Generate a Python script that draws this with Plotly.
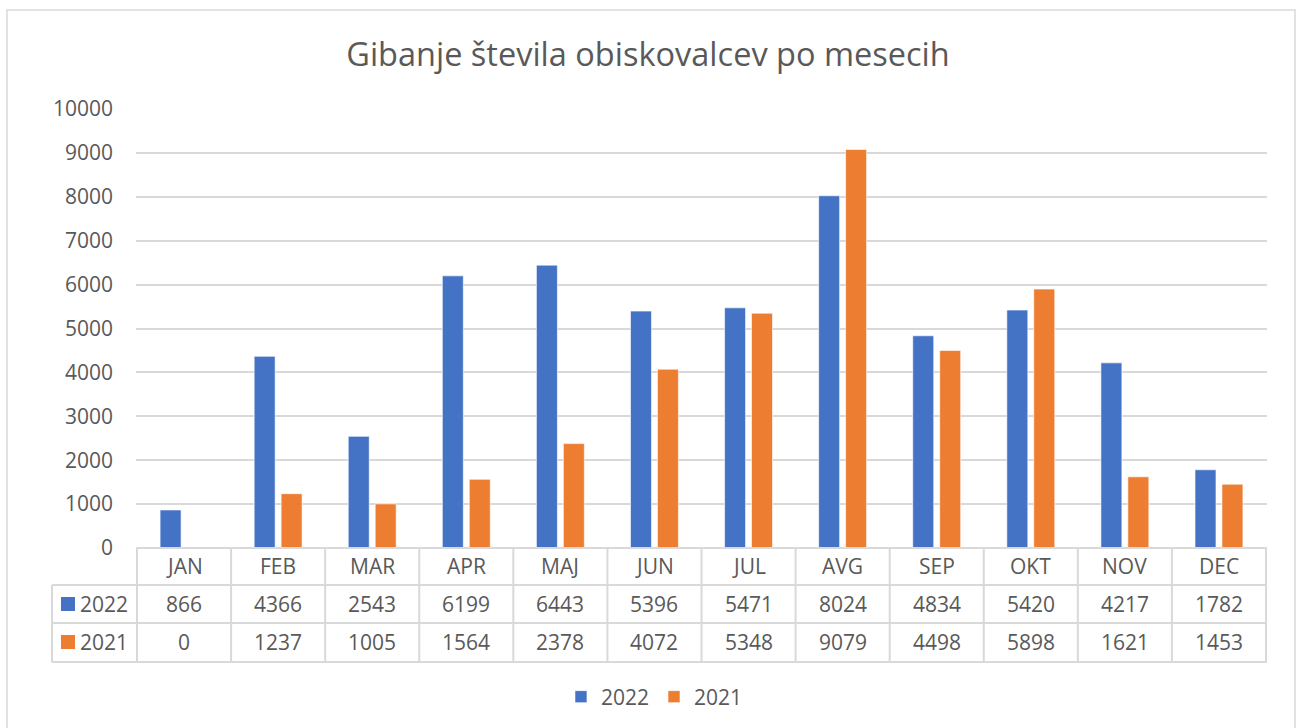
import plotly.graph_objects as go

# ---------------- data ----------------
months = ["JAN", "FEB", "MAR", "APR", "MAJ", "JUN", "JUL", "AVG", "SEP", "OKT", "NOV", "DEC"]
v2022 = [866, 4366, 2543, 6199, 6443, 5396, 5471, 8024, 4834, 5420, 4217, 1782]
v2021 = [0, 1237, 1005, 1564, 2378, 4072, 5348, 9079, 4498, 5898, 1621, 1453]
series_names = ["2022", "2021"]
series_values = [v2022, v2021]
colors = ["#4472C4", "#ED7D31"]
title_text = "Gibanje števila obiskovalcev po mesecih"
y_ticks = list(range(0, 10001, 1000))

# ---------------- layout geometry (pixels) ----------------
W, H = 1296, 728
L, R, T, B = 136, 1267, 109, 548
FONT = "Open Sans"
TXT = "#595959"
GRID = "#d9d9d9"
FS = 21


def px(x):
    return (x - L) / (R - L)


def py(y):
    return (B - y) / (B - T)


fig = go.Figure()
for name, vals, col in zip(series_names, series_values, colors):
    fig.add_trace(go.Bar(
        x=months, y=vals, name=name,
        marker=dict(color=col, line=dict(color="white", width=0.6)),
    ))

shapes = []
# chart border
shapes.append(dict(type="rect", xref="paper", yref="paper",
                   x0=px(7), x1=px(1295), y0=py(10), y1=py(745),
                   line=dict(color=GRID, width=1.5), layer="below"))
# table: header top line
shapes.append(dict(type="line", xref="paper", yref="paper",
                   x0=0, x1=1, y0=py(548), y1=py(548),
                   line=dict(color=GRID, width=2)))
row_lines = [585, 623, 662]
for yl in row_lines:
    shapes.append(dict(type="line", xref="paper", yref="paper",
                       x0=px(52), x1=1, y0=py(yl), y1=py(yl),
                       line=dict(color=GRID, width=2)))
shapes.append(dict(type="line", xref="paper", yref="paper",
                   x0=px(52), x1=px(52), y0=py(585), y1=py(662),
                   line=dict(color=GRID, width=2)))
for i in range(len(months) + 1):
    shapes.append(dict(type="line", xref="x", yref="paper",
                       x0=i - 0.5, x1=i - 0.5, y0=py(548), y1=py(662),
                       line=dict(color=GRID, width=2)))

annotations = []
font = dict(family=FONT, size=FS, color=TXT)
for m in months:
    annotations.append(dict(x=m, y=py(566), xref="x", yref="paper",
                            text=m, showarrow=False, font=font,
                            xanchor="center", yanchor="middle"))
row_centers = [604, 642]
for name, vals, col, yc in zip(series_names, series_values, colors, row_centers):
    for m, v in zip(months, vals):
        annotations.append(dict(x=m, y=py(yc), xref="x", yref="paper",
                                text=str(v), showarrow=False, font=font,
                                xanchor="center", yanchor="middle"))
    shapes.append(dict(type="rect", xref="paper", yref="paper",
                       x0=px(61), x1=px(75), y0=py(yc - 7), y1=py(yc + 7),
                       fillcolor=col, line=dict(width=0)))
    annotations.append(dict(x=px(78), y=py(yc), xref="paper", yref="paper",
                            text=name, showarrow=False, font=font,
                            xanchor="left", yanchor="middle"))

fig.update_layout(
    width=W, height=H,
    margin=dict(l=L, r=W - R, t=T, b=H - B, pad=0),
    paper_bgcolor="white", plot_bgcolor="white",
    font=dict(family=FONT, size=FS, color=TXT),
    title=dict(text=title_text, x=0.5, xref="container", xanchor="center",
               y=1 - 55 / H, yref="container", yanchor="middle",
               font=dict(family=FONT, size=32.5, color=TXT)),
    barmode="group", bargap=0.427, bargroupgap=0.222,
    showlegend=True,
    legend=dict(orientation="h", xref="container", yref="container",
                x=0.505, xanchor="center", y=1 - 697 / H, yanchor="middle",
                font=dict(family=FONT, size=FS, color=TXT),
                itemwidth=30, traceorder="normal"),
    shapes=shapes, annotations=annotations,
)
fig.update_xaxes(showticklabels=False, showgrid=False, zeroline=False,
                 showline=False, ticks="")
fig.update_yaxes(range=[0, 10000], tickvals=y_ticks, tickformat="d",
                 showgrid=True, gridcolor=GRID, gridwidth=1.5, zeroline=False,
                 showline=False, ticks="", ticklabelstandoff=22,
                 tickfont=dict(family=FONT, size=FS, color=TXT))

fig.write_html("out.html", config={"displayModeBar": False},
               post_script="document.body.style.margin='0';")
